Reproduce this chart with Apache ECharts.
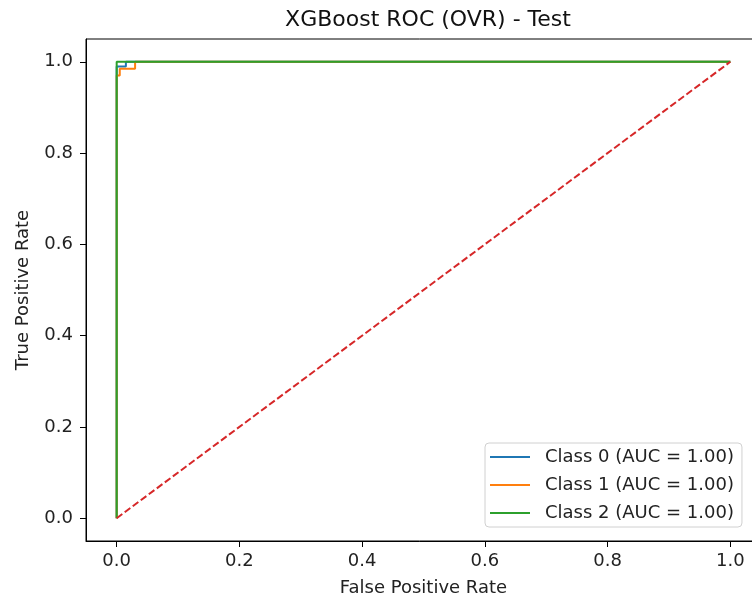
<!DOCTYPE html>
<html>
<head>
<meta charset="utf-8">
<script src="https://cdn.jsdelivr.net/npm/echarts@6/dist/echarts.min.js"></script>
<style>
  html, body { margin: 0; padding: 0; background: #fff; }
  #chart { width: 752px; height: 606px; }
</style>
</head>
<body>
<div id="chart"></div>
<script>
// ROC curve points (FPR, TPR)
const class0Fpr = [0, 0, 0.015, 0.015, 1]
const class0Tpr = [0, 0.99, 0.99, 1, 1]
const class1Fpr = [0, 0, 0.005, 0.005, 0.03, 0.03, 1]
const class1Tpr = [0, 0.97, 0.97, 0.985, 0.985, 1, 1]
const class2Fpr = [0, 0, 1]
const class2Tpr = [0, 1, 1]
const diagFpr = [0, 1]
const diagTpr = [0, 1]
const tickValues = [0, 0.2, 0.4, 0.6, 0.8, 1.0]
const classNames = ['Class 0 (AUC = 1.00)', 'Class 1 (AUC = 1.00)', 'Class 2 (AUC = 1.00)']

const pairs = (xs, ys) => xs.map((x, i) => [x, ys[i]])
const font = 'DejaVu Sans'

const axisCommon = {
  type: 'value',
  min: -0.05,
  max: 1.05,
  splitLine: { show: false },
  axisLine: { show: true, onZero: false, lineStyle: { color: '#000', width: 1 } },
  axisTick: { show: true, inside: false, length: 6, customValues: tickValues, lineStyle: { color: '#000' } },
  axisLabel: {
    customValues: tickValues,
    formatter: v => v.toFixed(1),
    color: '#222',
    fontSize: 18,
    fontFamily: font
  },
  nameLocation: 'middle',
  nameTextStyle: { color: '#222', fontSize: 18, fontFamily: font }
}

const chart = echarts.init(document.getElementById('chart'))
chart.setOption({
  animation: false,
  title: {
    text: 'XGBoost ROC (OVR) - Test',
    left: 423,
    textAlign: 'center',
    top: 4,
    textStyle: { color: '#111', fontSize: 22, fontWeight: 'normal', fontFamily: font }
  },
  grid: {
    left: 86,
    top: 39,
    width: 675,
    height: 502,
    outerBoundsMode: 'none',
    containLabel: false,
    show: true,
    borderColor: '#000',
    borderWidth: 1
  },
  xAxis: Object.assign({}, axisCommon, {
    name: 'False Positive Rate',
    nameGap: 38,
    axisLabel: Object.assign({}, axisCommon.axisLabel, { margin: 11 })
  }),
  yAxis: Object.assign({}, axisCommon, {
    name: 'True Positive Rate',
    nameGap: 54,
    axisLabel: Object.assign({}, axisCommon.axisLabel, { margin: 13 })
  }),
  legend: {
    data: classNames,
    orient: 'vertical',
    left: 485,
    top: 443,
    width: 264,
    padding: [5, 8, 5, 5],
    icon: 'rect',
    itemWidth: 40,
    itemHeight: 2,
    itemGap: 10,
    borderColor: '#d0d0d0',
    borderWidth: 1,
    borderRadius: 4,
    backgroundColor: 'rgba(255,255,255,0.8)',
    textStyle: { color: '#222', fontSize: 18, fontFamily: font, padding: [0, 0, 0, 10] }
  },
  series: [
    {
      name: classNames[0],
      type: 'line',
      data: pairs(class0Fpr, class0Tpr),
      symbol: 'none',
      lineStyle: { color: '#1f77b4', width: 2 },
      itemStyle: { color: '#1f77b4' }
    },
    {
      name: classNames[1],
      type: 'line',
      data: pairs(class1Fpr, class1Tpr),
      symbol: 'none',
      lineStyle: { color: '#ff7f0e', width: 2 },
      itemStyle: { color: '#ff7f0e' }
    },
    {
      name: classNames[2],
      type: 'line',
      data: pairs(class2Fpr, class2Tpr),
      symbol: 'none',
      lineStyle: { color: '#2ca02c', width: 2 },
      itemStyle: { color: '#2ca02c' }
    },
    {
      name: 'chance',
      type: 'line',
      data: pairs(diagFpr, diagTpr),
      symbol: 'none',
      lineStyle: { color: '#d62728', width: 2, type: [7, 3] },
      itemStyle: { color: '#d62728' }
    }
  ]
})
</script>
</body>
</html>
